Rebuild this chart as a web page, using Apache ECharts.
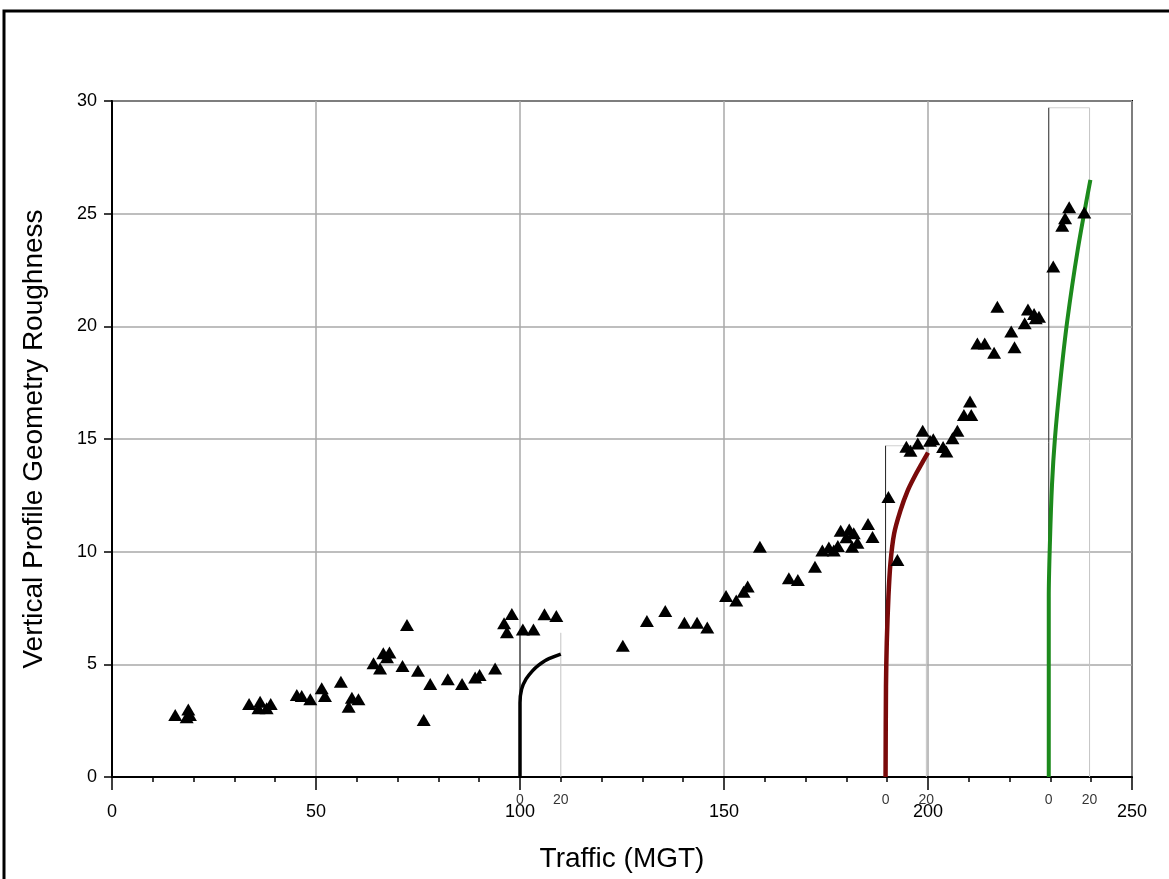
<!DOCTYPE html>
<html>
<head>
    <meta charset="utf-8">
    <title>Vertical Profile Geometry Roughness</title>
    <script src="https://cdn.jsdelivr.net/npm/echarts@6/dist/echarts.min.js"></script>
    <style>
        html, body { margin: 0; padding: 0; background: #fff; }
    </style>
</head>
<body>
<div id="main" style="width:1169px;height:879px;"></div>
<script type="text/javascript">

// measured points (Traffic MGT, roughness)
var trafficMGT = [
    15.5, 18.7, 19.1, 18.3, 33.6, 36.3, 35.9, 37.9, 38.9, 45.3,
    46.5, 48.6, 51.4, 52.2, 56.1, 58.8, 60.4, 58.0, 64.1, 65.7,
    66.5, 68.0, 67.4, 72.3, 71.2, 75.0, 76.4, 78.0, 82.3, 85.8,
    89.0, 90.1, 93.9, 98.0, 96.1, 96.8, 100.7, 103.3, 106.0, 108.9,
    125.2, 131.1, 135.6, 140.3, 143.4, 145.9, 150.5, 153.0, 154.8, 155.8,
    158.8, 165.9, 168.1, 172.3, 174.1, 175.7, 176.9, 177.9, 178.6, 180.7,
    180.0, 181.8, 181.4, 182.7, 185.3, 186.4, 190.3, 192.5, 194.7, 195.7,
    197.5, 198.7, 200.5, 201.3, 203.7, 204.5, 206.0, 207.2, 208.8, 210.6,
    210.3, 212.1, 213.9, 216.2, 217.0, 220.4, 221.2, 223.7, 224.5, 226.0,
    227.2, 226.4, 230.7, 232.9, 233.6, 234.6, 238.3
];
var roughness = [
    2.75, 3.0, 2.75, 2.65, 3.24, 3.34, 3.05, 3.05, 3.24, 3.64,
    3.6, 3.45, 3.94, 3.6, 4.23, 3.52, 3.45, 3.12, 5.05, 4.82,
    5.49, 5.52, 5.31, 6.75, 4.93, 4.72, 2.53, 4.13, 4.34, 4.13,
    4.42, 4.53, 4.82, 7.23, 6.82, 6.42, 6.55, 6.55, 7.22, 7.15,
    5.83, 6.92, 7.37, 6.85, 6.85, 6.64, 8.03, 7.83, 8.22, 8.45,
    10.22, 8.82, 8.74, 9.33, 10.05, 10.18, 10.05, 10.25, 10.93, 10.98,
    10.64, 10.82, 10.22, 10.4, 11.23, 10.65, 12.43, 9.63, 14.66, 14.48,
    14.8, 15.37, 14.92, 14.99, 14.64, 14.44, 15.03, 15.37, 16.07, 16.07,
    16.66, 19.24, 19.24, 18.83, 20.87, 19.77, 19.07, 20.14, 20.75, 20.55,
    20.43, 20.36, 22.65, 24.46, 24.8, 25.29, 25.05
];

// inset distribution curves, drawn on the main axes
var curve100 = [[100, 0], [100, 3.3], [100.4, 3.9], [101.5, 4.35], [103, 4.7], [104.5, 4.95], [106.5, 5.2], [110, 5.45]];
var curve190 = [[189.6, 0], [189.7, 4], [189.9, 6], [190.3, 8], [190.8, 9.5], [191.7, 10.8], [193.2, 11.8], [195, 12.7], [197.2, 13.5], [200, 14.4]];
var curve230 = [[229.6, 0], [229.6, 8], [229.9, 10.5], [230.4, 13], [231.1, 15], [232.4, 17.5], [234.1, 20.2], [236.7, 23.4], [239.8, 26.5]];

// inset boxes: start on traffic axis, top of box, tick labels of inset axis
var insetStart = [100, 189.6, 229.6];
var insetTop = [6.4, 14.7, 29.7];
var insetTicks = ['0', '20'];

var FONT = 'Liberation Sans, Arial, sans-serif';

function startView() {
    var myChart = echarts.init(document.getElementById('main'));

    var points = [];
    for (var i = 0; i < trafficMGT.length; i++) {
        points.push([trafficMGT[i], roughness[i]]);
    }

    var series = [];

    // inset frames
    insetStart.forEach(function (x0, k) {
        var top = insetTop[k];
        var segs = [];
        segs.push({ d: [[x0 + 10, 0], [x0 + 10, top]], c: '#c4c4c4' });
        for (var v = 5; v < top; v += 5) {
            segs.push({ d: [[x0, v], [x0 + 10, v]], c: '#c4c4c4' });
        }
        if (top > 10) {
            segs.push({ d: [[x0, top], [x0 + 10, top]], c: '#d0d0d0' });
        }
        segs.push({ d: [[x0, 0], [x0, top]], c: '#222' });
        segs.forEach(function (s) {
            series.push({
                type: 'line', data: s.d, symbol: 'none', silent: true, z: 3,
                lineStyle: { color: s.c, width: 1 }
            });
        });
    });

    var curves = [
        { d: curve100, c: '#000000', w: 3.5 },
        { d: curve190, c: '#7a0a0a', w: 4.5 },
        { d: curve230, c: '#1c8a1c', w: 4 }
    ];
    curves.forEach(function (cv) {
        series.push({
            type: 'line', data: cv.d, symbol: 'none', smooth: 0.3, silent: true, z: 4,
            lineStyle: { color: cv.c, width: cv.w }
        });
    });

    // inset axis labels
    var tickPts = [];
    insetStart.forEach(function (x0) {
        tickPts.push({ value: [x0, 0], name: insetTicks[0] });
        tickPts.push({ value: [x0 + 10, 0], name: insetTicks[1] });
    });
    series.push({
        type: 'scatter', data: tickPts, symbolSize: 0, clip: false, silent: true, z: 6,
        label: {
            show: true, position: 'bottom', distance: 16, formatter: '{b}',
            fontFamily: FONT, fontSize: 14, color: '#000'
        }
    });

    series.push({
        type: 'scatter', data: points, symbol: 'triangle', symbolSize: [14, 12], z: 5,
        itemStyle: { color: '#000', opacity: 1 }
    });

    var option = {
        backgroundColor: '#fff',
        animation: false,
        grid: {
            left: 112, right: 37, top: 101, bottom: 102,
            show: true, borderColor: '#000', borderWidth: 2
        },
        xAxis: {
            type: 'value', min: 0, max: 250, interval: 50,
            name: 'Traffic (MGT)', nameLocation: 'middle', nameGap: 68,
            nameTextStyle: { fontFamily: FONT, fontSize: 28, color: '#000' },
            axisLine: { show: true, onZero: false, lineStyle: { color: '#000', width: 2 } },
            axisTick: { show: true, length: 13, lineStyle: { color: '#000', width: 1.5 } },
            minorTick: { show: true, splitNumber: 5, length: 5, lineStyle: { color: '#000', width: 1.5 } },
            axisLabel: { margin: 26, fontFamily: FONT, fontSize: 18, color: '#000' },
            splitLine: { show: true, lineStyle: { color: '#a8a8a8', width: 1.5 } }
        },
        yAxis: {
            type: 'value', min: 0, max: 30, interval: 5,
            name: 'Vertical Profile Geometry Roughness', nameLocation: 'middle', nameGap: 64,
            nameTextStyle: { fontFamily: FONT, fontSize: 28, color: '#000' },
            axisLine: { show: true, onZero: false, lineStyle: { color: '#000', width: 2 } },
            axisTick: { show: true, length: 8, lineStyle: { color: '#000', width: 1.5 } },
            axisLabel: { margin: 15, fontFamily: FONT, fontSize: 18, color: '#000' },
            splitLine: { show: true, lineStyle: { color: '#a8a8a8', width: 1.5 } }
        },
        graphic: [{
            type: 'rect', silent: true,
            shape: { x: 4, y: 11, width: 1180, height: 890 },
            style: { fill: 'none', stroke: '#000', lineWidth: 3 }
        }],
        series: series
    };
    myChart.setOption(option);
}

startView();
</script>
</body>
</html>
